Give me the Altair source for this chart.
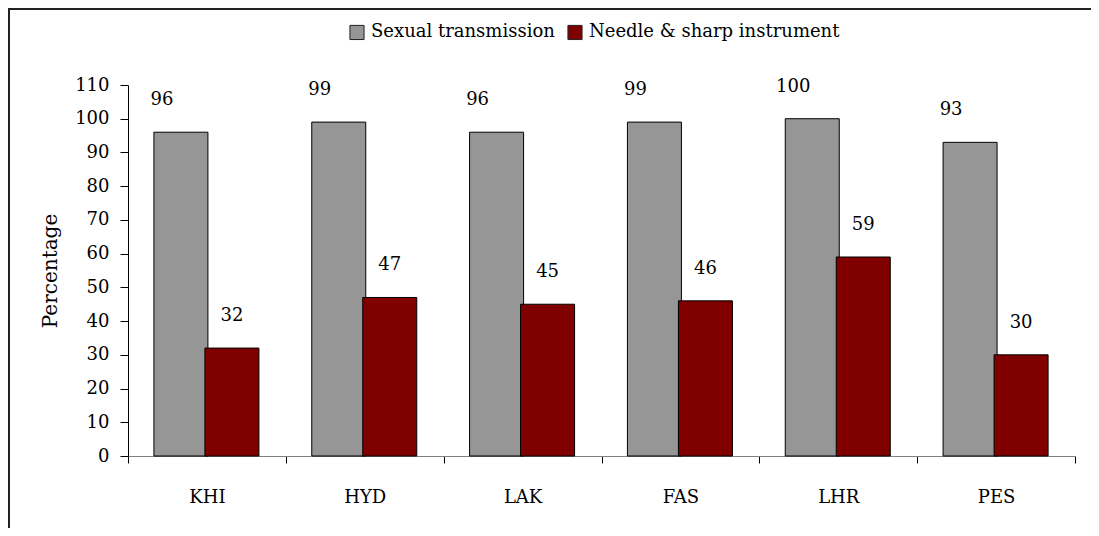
import altair as alt
import pandas as pd

cities = ["KHI", "HYD", "LAK", "FAS", "LHR", "PES"]
sexual = [96, 99, 96, 99, 100, 93]
needle = [32, 47, 45, 46, 59, 30]
series_names = ["Sexual transmission", "Needle & sharp instrument"]
series_colors = ["#969696", "#800000"]

rows = []
for c, s, n in zip(cities, sexual, needle):
    rows.append({"city": c, "series": series_names[0], "value": s})
    rows.append({"city": c, "series": series_names[1], "value": n})
df = pd.DataFrame(rows)

W, H = 947, 371
FONT = "DejaVu Serif"
FS = 18

x_enc = alt.X("city:N", sort=cities, title=None,
              scale=alt.Scale(paddingInner=0, paddingOuter=0),
              axis=alt.Axis(tickBand="extent", labelAngle=0, labelPadding=25,
                            tickSize=7, tickColor="black", domainColor="#808080",
                            labelFontSize=FS, labelColor="black"))
y_enc = alt.Y("value:Q", title="Percentage",
              scale=alt.Scale(domain=[0, 110], nice=False),
              axis=alt.Axis(values=list(range(0, 111, 10)), grid=False,
                            tickSize=8, tickColor="black", domainColor="black",
                            labelPadding=11, labelFontSize=FS, labelColor="black",
                            titleFontSize=20, titleFontWeight="normal",
                            titleColor="black", titlePadding=14))
color_enc = alt.Color("series:N",
                      scale=alt.Scale(domain=series_names, range=series_colors),
                      legend=alt.Legend(title=None, orient="none", direction="horizontal",
                                        legendX=220, legendY=-62, symbolType="square",
                                        symbolSize=200, symbolStrokeColor="#222222",
                                        symbolStrokeWidth=1, symbolOpacity=1,
                                        labelFontSize=FS, labelColor="black",
                                        labelLimit=0, columnPadding=10, labelOffset=5))

base = alt.Chart(df).encode(x=x_enc, y=y_enc)

grey_bars = base.transform_filter(alt.datum.series == series_names[0]).mark_bar(
    width=54, xOffset=-26, stroke="black", strokeWidth=1, opacity=1
).encode(color=color_enc)
red_bars = base.transform_filter(alt.datum.series == series_names[1]).mark_bar(
    width=54, xOffset=25, stroke="black", strokeWidth=1, opacity=1
).encode(color=color_enc)

grey_text = base.transform_filter(alt.datum.series == series_names[0]).mark_text(
    dx=-45, dy=-32, fontSize=FS, color="black", baseline="middle"
).encode(text="value:Q")
red_text = base.transform_filter(alt.datum.series == series_names[1]).mark_text(
    dx=25, dy=-32, fontSize=FS, color="black", baseline="middle"
).encode(text="value:Q")

frame = alt.Chart(alt.Data(values=[{}]))
left_line = frame.mark_rule(color="#222222", strokeWidth=2).encode(
    x=alt.value(-119), y=alt.value(-77), y2=alt.value(H + 72))
top_line = frame.mark_rule(color="#222222", strokeWidth=2).encode(
    x=alt.value(-120), x2=alt.value(W + 16), y=alt.value(-76))

chart = alt.layer(grey_bars, red_bars, grey_text, red_text, left_line, top_line).properties(
    width=W, height=H,
    autosize=alt.AutoSizeParams(type="none"),
    padding={"left": 120, "top": 77, "right": 16, "bottom": 72},
).configure(font=FONT).configure_view(stroke=None)

chart.save("out.html", embed_options={"renderer": "svg", "actions": False})
